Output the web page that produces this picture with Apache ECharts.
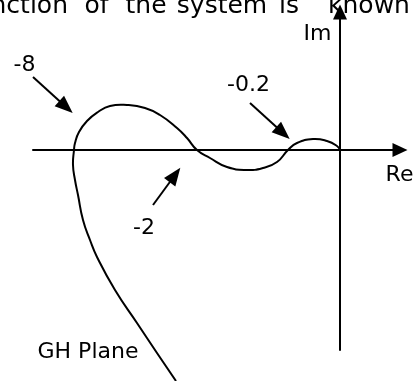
<!DOCTYPE html>
<html>
<head>
<meta charset="utf-8">
<script src="https://cdn.jsdelivr.net/npm/echarts@6/dist/echarts.min.js"></script>
<style>
  html, body { margin: 0; padding: 0; background: #fff; }
  #chart { width: 416px; height: 381px; }
</style>
</head>
<body>
<div id="chart"></div>
<script>
// GH plane locus (units: Re / Im, arbitrary scale)
var locusRe = [0, -0.3, -1.3, -2.7, -4.3, -5.2, -6.3, -7.7, -9.3, -11.3, -13.0, -14.3, -15.3, -16.3, -18.0, -19.5, -21.3,
  -23.0, -24.2, -25.3, -26.1, -26.5, -26.6, -26.7, -26.5, -26.2, -25.7, -25.0, -24.3, -22.5, -20.3, -18.3, -16.4];
var locusIm = [0, 0.4, 0.9, 1.1, 0.7, 0, -1.2, -1.8, -2.0, -1.7, -0.8, 0, 1.2, 2.2, 3.5, 4.2, 4.5,
  4.4, 3.8, 2.9, 1.8, 0.7, 0, -1.5, -3.0, -4.5, -7.0, -9.0, -10.7, -14.0, -17.3, -20.3, -23.1];

// pointer arrows: [tail, head]
var pointerNames = ['-8', '-0.2', '-2'];
var pointerFrom = [[-30.7, 7.3], [-9.0, 4.7], [-18.7, -5.5]];
var pointerTo = [[-27.4, 4.3], [-5.7, 1.7], [-16.5, -2.5]];

var headerWords = ['function', 'of', 'the', 'system', 'is', 'known'];

var chart = echarts.init(document.getElementById('chart'));

var locus = locusRe.map(function (re, i) { return [re, locusIm[i]]; });
var pointers = pointerFrom.map(function (p, i) {
  return [{ name: pointerNames[i], coord: p }, { coord: pointerTo[i] }];
});

var font = '22px "DejaVu Sans"';
function label(text, x, y) {
  return { type: 'text', x: x, y: y, style: { text: text, font: font, fill: '#000', textAlign: 'center', textVerticalAlign: 'middle' } };
}

// header line is cut by the top edge of the picture
var headerX = [68, 96.5, 146, 222, 289, 369];
var header = headerWords.map(function (w, i) {
  return {
    type: 'text', x: headerX[i], y: 6.3,
    style: { text: w, font: '25px "DejaVu Sans"', fill: '#000', textAlign: i === 0 ? 'right' : 'center', textVerticalAlign: 'middle' }
  };
});

var axisLine = {
  onZero: true,
  symbol: ['none', 'triangle'],
  symbolSize: [14, 15],
  lineStyle: { color: '#000', width: 2 }
};

var option = {
  animation: false,
  backgroundColor: '#fff',
  grid: { left: 33, right: 16, top: 12, bottom: 31 },
  xAxis: {
    type: 'value', min: -30.7, max: 6.0,
    axisLine: axisLine,
    axisTick: { show: false }, axisLabel: { show: false }, splitLine: { show: false }
  },
  yAxis: {
    type: 'value', min: -20, max: 13.8,
    axisLine: axisLine,
    axisTick: { show: false }, axisLabel: { show: false }, splitLine: { show: false }
  },
  series: [
    {
      // smooth path through the read points, placed by the axes
      type: 'custom',
      coordinateSystem: 'cartesian2d',
      data: locus,
      silent: true,
      renderItem: function (params, api) {
        if (params.dataIndex !== 0) return null;
        var pts = locus.map(function (p) { return api.coord(p); });
        return {
          type: 'polyline',
          shape: { points: pts, smooth: 0.5 },
          style: { stroke: '#000', lineWidth: 2, fill: null }
        };
      }
    },
    {
      type: 'line',
      data: [],
      markLine: {
        silent: true,
        symbol: ['none', 'triangle'],
        symbolSize: [14, 18],
        label: { show: false },
        lineStyle: { color: '#000', width: 2, type: 'solid' },
        data: pointers
      }
    }
  ],
  graphic: header.concat([
    label('Im', 317.5, 34.5),
    label('Re', 399.5, 175),
    label('-8', 24.5, 65),
    label('-0.2', 248.5, 85),
    label('-2', 144, 228),
    label('GH Plane', 88, 352)
  ])
};

chart.setOption(option);
</script>
</body>
</html>
